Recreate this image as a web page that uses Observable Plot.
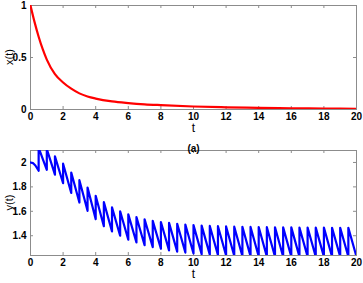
<!DOCTYPE html>
<html>
<head>
<meta charset="utf-8">
<script src="https://cdn.jsdelivr.net/npm/d3@7"></script>
<script src="https://cdn.jsdelivr.net/npm/@observablehq/plot@0.6"></script>
<style>
  html, body { margin: 0; padding: 0; background: #fff; }
  #chart { width: 363px; height: 283px; overflow: hidden; }
  #chart svg { display: block; }
</style>
</head>
<body>
<div id="chart"></div>
<script>
// ---- data ----
// top panel: x(t)
const xT = [0, 0.25, 0.5, 0.75, 1, 1.5, 2, 2.5, 3, 3.5, 4, 5, 6, 7, 8, 10, 12, 14, 16, 18, 20];
const xVal = [1, 0.84, 0.70, 0.58, 0.48, 0.34, 0.26, 0.20, 0.155, 0.125, 0.105, 0.078, 0.062, 0.05, 0.042, 0.029, 0.021, 0.016, 0.012, 0.009, 0.006];

// bottom panel: y(t), first (un-pulsed) stretch
const yFirstT = [0, 0.15, 0.3, 0.5];
const yFirstV = [2.0, 1.995, 1.975, 1.932];
// pulse times and values just after / just before the next pulse
const pulseT = [0.5, 1, 1.5, 2, 2.5, 3, 3.5, 4, 4.5, 5, 5.5, 6, 6.5, 7, 7.5, 8, 8.5, 9, 9.5, 10,
                10.5, 11, 11.5, 12, 12.5, 13, 13.5, 14, 14.5, 15, 15.5, 16, 16.5, 17, 17.5, 18, 18.5, 19, 19.5];
const yAfter = [2.12, 2.11, 2.05, 1.99, 1.918, 1.855, 1.795, 1.727, 1.675, 1.632, 1.60, 1.575, 1.553, 1.535, 1.522, 1.512, 1.505, 1.498, 1.492, 1.487,
                1.483, 1.48, 1.478, 1.476, 1.474, 1.473, 1.472, 1.471, 1.470, 1.469, 1.468, 1.468, 1.467, 1.467, 1.466, 1.466, 1.465, 1.465, 1.465];
const yBeforeNext = [1.94, 1.90, 1.83, 1.75, 1.672, 1.604, 1.536, 1.478, 1.435, 1.40, 1.367, 1.345, 1.322, 1.307, 1.293, 1.28, 1.27, 1.262, 1.255, 1.249,
                     1.245, 1.241, 1.238, 1.235, 1.233, 1.231, 1.23, 1.229, 1.228, 1.228, 1.228, 1.228, 1.228, 1.228, 1.228, 1.228, 1.228, 1.228, 1.228];

// ticks
const tTicks = [0, 2, 4, 6, 8, 10, 12, 14, 16, 18, 20];
const xTicks = [0, 0.5, 1];
const yTicks = [1.4, 1.6, 1.8, 2];

// ---- build tables ----
const xData = xT.map((t, i) => ({t, v: xVal[i]}));
const yData = yFirstT.map((t, i) => ({t, v: yFirstV[i]}));
pulseT.forEach((t, i) => {
  yData.push({t, v: yAfter[i]});
  yData.push({t: t + 0.5, v: yBeforeNext[i]});
});

const W = 363;
const font = "Liberation Sans, Arial, sans-serif";
const axisGray = "#8c8c8c";

function panel({data, color, yDomain, yTicksArr, yLabel, height, mt, mb, title}) {
  const ml = 30, mr = 7;
  const plotW = W - ml - mr;
  const plotH = height - mt - mb;
  const marks = [
    Plot.frame({stroke: axisGray, strokeWidth: 1}),
    // inward ticks, all four sides
    Plot.ruleX(tTicks, {x: d => d, insetTop: plotH - 3, stroke: axisGray}),
    Plot.ruleX(tTicks, {x: d => d, insetBottom: plotH - 3, stroke: axisGray}),
    Plot.ruleY(yTicksArr, {y: d => d, insetRight: plotW - 3, stroke: axisGray}),
    Plot.ruleY(yTicksArr, {y: d => d, insetLeft: plotW - 3, stroke: axisGray}),
    Plot.axisX({ticks: tTicks, tickSize: 0, tickPadding: 3, tickFormat: d => String(d),
                label: null, fontSize: 10, fontWeight: "bold", fill: "#000"}),
    Plot.axisY({ticks: yTicksArr, tickSize: 0, tickPadding: 4, tickFormat: d => String(d),
                label: null, fontSize: 10, fontWeight: "bold", fill: "#000"}),
    Plot.line(data, {x: "t", y: "v", stroke: color, strokeWidth: 2.2, clip: true,
                     curve: color === "red" ? "monotone-x" : "linear"}),
    Plot.text(["t"], {frameAnchor: "bottom", dy: 22, fontSize: 12, fill: "#000", text: d => d})
  ];
  if (title) marks.push(Plot.text([title], {frameAnchor: "top", dy: -6, fontSize: 10, fontWeight: "bold", fill: "#000", text: d => d}));
  const svg = Plot.plot({
    width: W, height,
    marginLeft: ml, marginRight: mr, marginTop: mt, marginBottom: mb,
    style: {fontFamily: font, background: "#fff", overflow: "visible"},
    x: {domain: [0, 20]},
    y: {domain: yDomain},
    marks
  });
  // rotated y-axis title
  d3.select(svg).append("text")
    .attr("transform", `translate(9,${mt + plotH / 2}) rotate(-90)`)
    .attr("text-anchor", "middle")
    .attr("dy", "0.35em")
    .attr("font-size", 11)
    .attr("fill", "#000")
    .attr("font-family", font)
    .text(yLabel);
  return svg;
}

const topPanel = panel({data: xData, color: "red", yDomain: [0, 1], yTicksArr: xTicks, yLabel: "x(t)",
                   height: 138, mt: 5, mb: 29});
const bottomPanel = panel({data: yData, color: "blue", yDomain: [1.238, 2.098], yTicksArr: yTicks, yLabel: "y(t)",
                      height: 145, mt: 12, mb: 28, title: "(a)"});
const el = document.getElementById("chart");
el.appendChild(topPanel);
el.appendChild(bottomPanel);
</script>
</body>
</html>
